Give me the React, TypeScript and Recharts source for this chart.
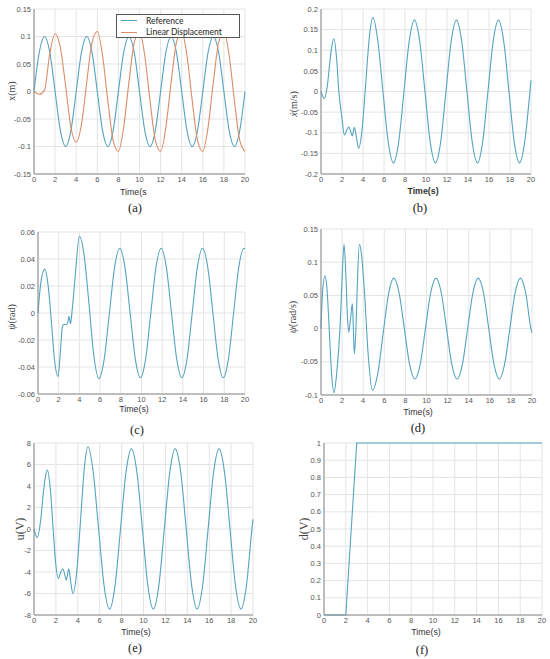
import React from "react";
import {
  LineChart,
  Line,
  XAxis,
  YAxis,
  CartesianGrid,
  Legend,
} from "recharts";

// shared x ticks
const timeTicks = [0, 2, 4, 6, 8, 10, 12, 14, 16, 18, 20];

// (a) position x(m)
const timeA = [
  0, 0.5, 1, 1.5, 2, 2.5, 3, 3.5, 4, 4.5, 5, 5.5, 6, 6.5, 7, 7.5, 8, 8.5, 9, 9.5,
  10, 10.5, 11, 11.5, 12, 12.5, 13, 13.5, 14, 14.5, 15, 15.5, 16, 16.5, 17, 17.5,
  18, 18.5, 19, 19.5, 20,
];
const referenceX = [
  0, 0.071, 0.1, 0.071, 0, -0.071, -0.1, -0.071,
  0, 0.071, 0.1, 0.071, 0, -0.071, -0.1, -0.071,
  0, 0.071, 0.1, 0.071, 0, -0.071, -0.1, -0.071,
  0, 0.071, 0.1, 0.071, 0, -0.071, -0.1, -0.071,
  0, 0.071, 0.1, 0.071, 0, -0.071, -0.1, -0.071,
  0,
];
const linearX = [
  0, -0.005, 0.003, 0.07, 0.105, 0.08, 0.01, -0.065, -0.092, -0.06,
  0.017, 0.089, 0.109, 0.065, -0.017, -0.089, -0.109, -0.065,
  0.017, 0.089, 0.109, 0.065, -0.017, -0.089, -0.109, -0.065,
  0.017, 0.089, 0.109, 0.065, -0.017, -0.089, -0.109, -0.065,
  0.017, 0.089, 0.109, 0.065, -0.017, -0.089, -0.109,
];
const ticksA = [-0.15, -0.1, -0.05, 0, 0.05, 0.1, 0.15];
const legendOrder = ["Reference", "Linear Displacement"];

// (b) velocity
const timeB = [
  0, 0.32, 0.6, 0.85, 1.0, 1.24, 1.5, 1.7, 2.0, 2.22, 2.45, 2.65, 2.82, 2.98,
  3.08, 3.18, 3.38, 3.58, 3.9, 4.25, 4.6, 4.95,
  5.4, 5.9, 6.4, 6.9, 7.4, 7.9, 8.4, 8.9, 9.4, 9.9, 10.4, 10.9, 11.4, 11.9,
  12.4, 12.9, 13.4, 13.9, 14.4, 14.9, 15.4, 15.9, 16.4, 16.9, 17.4, 17.9,
  18.4, 18.9, 19.4, 19.9, 20,
];
const velocityX = [
  0, -0.017, 0.013, 0.073, 0.105, 0.128, 0.075, 0.0, -0.065, -0.106, -0.094,
  -0.086, -0.097, -0.108, -0.097, -0.087, -0.112, -0.138, -0.095, 0.016, 0.131,
  0.179,
  0.125, 0, -0.122, -0.173, -0.122, 0, 0.122, 0.173, 0.122, 0, -0.122, -0.173,
  -0.122, 0, 0.122, 0.173, 0.122, 0, -0.122, -0.173, -0.122, 0, 0.122, 0.173,
  0.122, 0, -0.122, -0.173, -0.122, 0, 0.027,
];
const ticksB = [-0.2, -0.15, -0.1, -0.05, 0, 0.05, 0.1, 0.15, 0.2];

// (c) angle
const timeC = [
  0, 0.3, 0.65, 1.0, 1.3, 1.6, 1.94, 2.15, 2.36, 2.5, 2.75, 2.9, 3.0, 3.14,
  3.3, 3.6, 4.0, 4.45, 4.9, 5.4,
  5.9, 6.4, 6.9, 7.4, 7.9, 8.4, 8.9, 9.4, 9.9, 10.4, 10.9, 11.4, 11.9, 12.4,
  12.9, 13.4, 13.9, 14.4, 14.9, 15.4, 15.9, 16.4, 16.9, 17.4, 17.9, 18.4,
  18.9, 19.4, 19.9, 20,
];
const anglePsi = [
  0, 0.024, 0.0325, 0.019, -0.007, -0.035, -0.047, -0.03, -0.01, -0.0085,
  -0.0085, -0.006, -0.0025, -0.008, 0.002, 0.028, 0.0568, 0.043, 0.009, -0.032,
  -0.0486, -0.034, 0, 0.034, 0.048, 0.034, 0, -0.034, -0.048, -0.034, 0, 0.034,
  0.048, 0.034, 0, -0.034, -0.048, -0.034, 0, 0.034, 0.048, 0.034, 0, -0.034,
  -0.048, -0.034, 0, 0.034, 0.048, 0.0475,
];
const ticksC = [-0.06, -0.04, -0.02, 0, 0.02, 0.04, 0.06];

// (d) angular rate
const timeD = [
  0, 0.15, 0.38, 0.55, 0.8, 1.0, 1.23, 1.5, 1.8, 2.0, 2.18, 2.35, 2.5, 2.63,
  2.8, 2.97, 3.07, 3.16, 3.3, 3.45, 3.64, 3.85, 4.1, 4.5, 4.87, 5.4, 5.9, 6.4,
  6.9, 7.4, 7.9, 8.4, 8.9, 9.4, 9.9, 10.4, 10.9, 11.4, 11.9, 12.4, 12.9, 13.4,
  13.9, 14.4, 14.9, 15.4, 15.9, 16.4, 16.9, 17.4, 17.9, 18.4, 18.9, 19.4,
  19.9, 20,
];
const ratePsi = [
  0, 0.055, 0.0795, 0.063, -0.007, -0.067, -0.0965, -0.065, 0.0, 0.075, 0.127,
  0.084, 0.02, -0.0055, 0.015, 0.0375, 0.0, -0.038, -0.005, 0.07, 0.127, 0.11,
  0.06, -0.045, -0.093, -0.066, -0.006, 0.052,
  0.076, 0.054, 0, -0.054, -0.076, -0.054, 0, 0.054, 0.076, 0.054, 0, -0.054,
  -0.076, -0.054, 0, 0.054, 0.076, 0.054, 0, -0.054, -0.076, -0.054, 0, 0.054,
  0.076, 0.054, 0, -0.006,
];
const ticksD = [-0.1, -0.05, 0, 0.05, 0.1, 0.15];

// (e) control voltage
const timeE = [
  0, 0.3, 0.6, 0.85, 1.0, 1.22, 1.5, 1.75, 2.0, 2.22, 2.45, 2.65, 2.8, 2.95,
  3.07, 3.17, 3.35, 3.56, 3.9, 4.25, 4.6, 4.93,
  5.4, 5.9, 6.4, 6.9, 7.4, 7.9, 8.4, 8.9, 9.4, 9.9, 10.4, 10.9, 11.4, 11.9,
  12.4, 12.9, 13.4, 13.9, 14.4, 14.9, 15.4, 15.9, 16.4, 16.9, 17.4, 17.9,
  18.4, 18.9, 19.4, 19.9, 20,
];
const voltageU = [
  0, -0.8, 0.74, 3.3, 4.6, 5.48, 3.6, 0.0, -3.4, -4.6, -4.0, -3.7, -4.2, -4.75,
  -4.2, -3.7, -4.9, -6.0, -4.0, 0.8, 5.7, 7.65,
  5.35, 0, -5.27, -7.45, -5.27, 0, 5.27, 7.45, 5.27, 0, -5.27, -7.45, -5.27, 0,
  5.27, 7.45, 5.27, 0, -5.27, -7.45, -5.27, 0, 5.27, 7.45, 5.27, 0, -5.27,
  -7.45, -5.27, 0, 0.9,
];
const ticksE = [-8, -6, -4, -2, 0, 2, 4, 6, 8];

// (f) disturbance
const timeF = [0, 2, 3, 20];
const disturbanceD = [0, 0, 1, 1];
const ticksF = [0, 0.1, 0.2, 0.3, 0.4, 0.5, 0.6, 0.7, 0.8, 0.9, 1];

const BLUE = "#55a3bf";
const ORANGE = "#dc8c66";
const SANS = "'Liberation Sans', Arial, sans-serif";
const SERIF = "'Liberation Serif', 'Times New Roman', serif";

function zip(t: number[], cols: Record<string, number[]>) {
  return t.map((tv, i) => {
    const row: Record<string, number> = { t: tv };
    Object.keys(cols).forEach((k) => (row[k] = cols[k][i]));
    return row;
  });
}

const dataA = zip(timeA, { ref: referenceX, lin: linearX });
const dataB = zip(timeB, { v: velocityX });
const dataC = zip(timeC, { v: anglePsi });
const dataD = zip(timeD, { v: ratePsi });
const dataE = zip(timeE, { v: voltageU });
const dataF = zip(timeF, { v: disturbanceD });

const tickStyle = { fontSize: 7.5, fill: "#555", fontFamily: SANS };

function LegendBox({ payload }: any) {
  const items = [...(payload || [])].sort(
    (a: any, b: any) => legendOrder.indexOf(a.value) - legendOrder.indexOf(b.value)
  );
  return (
    <div
      style={{
        width: 124,
        height: 24,
        border: "1px solid #555",
        background: "#fff",
        boxSizing: "border-box",
        fontFamily: "Lato, sans-serif",
        fontSize: 8.5,
        color: "#222",
      }}
    >
      {items.map((entry: any) => (
        <div key={entry.value} style={{ display: "flex", alignItems: "center", height: 11.5 }}>
          <span
            style={{
              display: "inline-block",
              width: 16,
              height: 0,
              borderTop: `1px solid ${entry.color}`,
              marginLeft: 4,
              marginRight: 9,
            }}
          />
          <span>{entry.value}</span>
        </div>
      ))}
    </div>
  );
}

type SeriesDef = { key: string; name: string; color: string };

function Panel(props: {
  left: number;
  top: number;
  yWidth: number;
  xHeight: number;
  margin: { top: number; right: number; left: number; bottom: number };
  data: any[];
  series: SeriesDef[];
  yDomain: [number, number];
  yTicks: number[];
  curve: "monotone" | "linear";
  legend?: boolean;
}) {
  const { left, top, yWidth, xHeight, margin, data, series, yDomain, yTicks, curve, legend } = props;
  return (
    <div style={{ position: "absolute", left, top }}>
      <LineChart width={275} height={200} data={data} margin={margin}>
        <CartesianGrid stroke="#e4e4e4" />
        <XAxis
          dataKey="t"
          type="number"
          domain={[0, 20]}
          ticks={timeTicks}
          height={xHeight}
          tickLine={false}
          tickSize={2}
          tickMargin={1}
          axisLine={{ stroke: "#8a8a8a" }}
          tick={tickStyle}
          interval={0}
        />
        <XAxis
          xAxisId="top"
          orientation="top"
          dataKey="t"
          type="number"
          domain={[0, 20]}
          height={0}
          tick={false}
          tickLine={false}
          axisLine={{ stroke: "#8a8a8a" }}
        />
        <YAxis
          type="number"
          domain={yDomain}
          ticks={yTicks}
          width={yWidth}
          tickLine={false}
          tickSize={2}
          tickMargin={1}
          axisLine={{ stroke: "#8a8a8a" }}
          tick={tickStyle}
          interval={0}
        />
        <YAxis
          yAxisId="right"
          orientation="right"
          type="number"
          domain={yDomain}
          width={0}
          tick={false}
          tickLine={false}
          axisLine={{ stroke: "#8a8a8a" }}
        />
        {series.map((s) => (
          <Line
            key={s.key}
            type={curve}
            dataKey={s.key}
            name={s.name}
            stroke={s.color}
            strokeWidth={1.1}
            dot={false}
            activeDot={false}
            isAnimationActive={false}
          />
        ))}
        {legend && (
          <Legend
            layout="vertical"
            verticalAlign="middle"
            align="center"
            content={<LegendBox />}
            wrapperStyle={{ left: 116, top: 14, width: 124, height: 24 }}
          />
        )}
      </LineChart>
    </div>
  );
}

const titleStyle = { fontFamily: SANS, fontSize: 8.8, fill: "#333" } as const;
const capStyle = { fontFamily: SERIF, fontSize: 12.5, fill: "#222" } as const;
const yStyle = { fontFamily: SERIF, fontSize: 10, fill: "#444" } as const;

function YTitle({ x, y, size, children }: { x: number; y: number; size?: number; children: React.ReactNode }) {
  return (
    <text
      x={x}
      y={y}
      transform={`rotate(-90 ${x} ${y})`}
      textAnchor="middle"
      dominantBaseline="central"
      style={{ ...yStyle, fontSize: size ?? 10 }}
    >
      {children}
    </text>
  );
}

export default function App() {
  return (
    <div
      style={{
        position: "absolute",
        left: 0,
        top: 0,
        width: 550,
        height: 659,
        background: "#fff",
        overflow: "hidden",
      }}
    >
      <Panel
        left={0}
        top={0}
        yWidth={34}
        xHeight={26}
        margin={{ top: 9, right: 30, left: 0, bottom: 0 }}
        data={dataA}
        series={[
          { key: "ref", name: "Reference", color: BLUE },
          { key: "lin", name: "Linear Displacement", color: ORANGE },
        ]}
        yDomain={[-0.15, 0.15]}
        yTicks={ticksA}
        curve="monotone"
        legend
      />
      <Panel
        left={275}
        top={0}
        yWidth={46}
        xHeight={26}
        margin={{ top: 9, right: 19, left: 0, bottom: 0 }}
        data={dataB}
        series={[{ key: "v", name: "velocity", color: BLUE }]}
        yDomain={[-0.2, 0.2]}
        yTicks={ticksB}
        curve="monotone"
      />
      <Panel
        left={0}
        top={220}
        yWidth={38}
        xHeight={26}
        margin={{ top: 12, right: 30, left: 0, bottom: 0 }}
        data={dataC}
        series={[{ key: "v", name: "angle", color: BLUE }]}
        yDomain={[-0.06, 0.06]}
        yTicks={ticksC}
        curve="monotone"
      />
      <Panel
        left={275}
        top={220}
        yWidth={46}
        xHeight={25}
        margin={{ top: 9, right: 18, left: 0, bottom: 0 }}
        data={dataD}
        series={[{ key: "v", name: "rate", color: BLUE }]}
        yDomain={[-0.1, 0.15]}
        yTicks={ticksD}
        curve="monotone"
      />
      <Panel
        left={0}
        top={440}
        yWidth={34}
        xHeight={25}
        margin={{ top: 3, right: 22, left: 0, bottom: 0 }}
        data={dataE}
        series={[{ key: "v", name: "voltage", color: BLUE }]}
        yDomain={[-8, 8]}
        yTicks={ticksE}
        curve="monotone"
      />
      <Panel
        left={275}
        top={440}
        yWidth={49}
        xHeight={25}
        margin={{ top: 3, right: 8, left: 0, bottom: 0 }}
        data={dataF}
        series={[{ key: "v", name: "disturbance", color: BLUE }]}
        yDomain={[0, 1]}
        yTicks={ticksF}
        curve="linear"
      />

      <svg
        width={550}
        height={659}
        style={{ position: "absolute", left: 0, top: 0, pointerEvents: "none" }}
      >
        {/* x titles */}
        <text x={120} y={192} dominantBaseline="central" style={titleStyle}>Time(s</text>
        <text x={423} y={191} textAnchor="middle" dominantBaseline="central" style={{ ...titleStyle, fontWeight: "bold" }}>Time(s)</text>
        <text x={134} y={409} textAnchor="middle" dominantBaseline="central" style={titleStyle}>Time(s)</text>
        <text x={418} y={412} textAnchor="middle" dominantBaseline="central" style={titleStyle}>Time(s)</text>
        <text x={136} y={632} textAnchor="middle" dominantBaseline="central" style={titleStyle}>Time(s)</text>
        <text x={426} y={632} textAnchor="middle" dominantBaseline="central" style={titleStyle}>Time(s)</text>

        {/* y titles */}
        <YTitle x={11} y={91}>x(m)</YTitle>
        <YTitle x={293} y={104}>
          <tspan fontStyle="italic">ẋ</tspan>(m/s)
        </YTitle>
        <YTitle x={11} y={317}>
          <tspan fontStyle="italic">ψ</tspan>(rad)
        </YTitle>
        <YTitle x={292} y={317}>
          <tspan fontStyle="italic">ψ̇</tspan>(rad/s)
        </YTitle>
        <YTitle x={20} y={529} size={12}>u(V)</YTitle>
        <YTitle x={304} y={529} size={12}>d(V)</YTitle>

        {/* captions */}
        <text x={135} y={208} textAnchor="middle" dominantBaseline="central" style={capStyle}>(a)</text>
        <text x={420} y={208} textAnchor="middle" dominantBaseline="central" style={capStyle}>(b)</text>
        <text x={137} y={430} textAnchor="middle" dominantBaseline="central" style={capStyle}>(c)</text>
        <text x={418} y={428} textAnchor="middle" dominantBaseline="central" style={capStyle}>(d)</text>
        <text x={135} y={648} textAnchor="middle" dominantBaseline="central" style={capStyle}>(e)</text>
        <text x={422} y={650} textAnchor="middle" dominantBaseline="central" style={capStyle}>(f)</text>
      </svg>
    </div>
  );
}
